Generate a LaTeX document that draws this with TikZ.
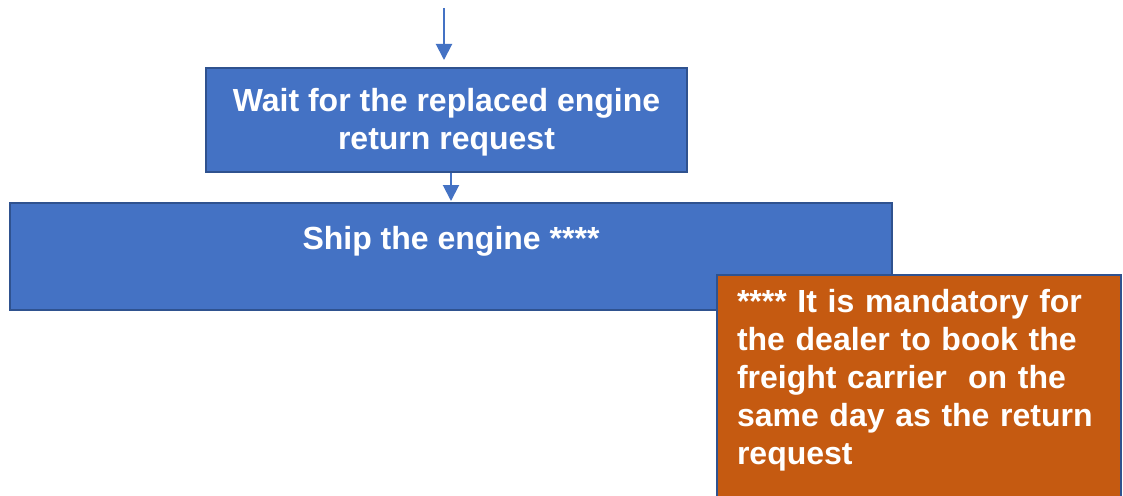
\documentclass[tikz,border=0pt]{standalone}
\usepackage{fontspec}
\setmainfont{Liberation Sans}
\usetikzlibrary{arrows.meta}
\definecolor{boxblue}{HTML}{4472C4}
\definecolor{edgeblue}{HTML}{2F528F}
\definecolor{noteorange}{HTML}{C55A11}
\begin{document}
\begin{tikzpicture}[x=1pt,y=-1pt,
  bluebox/.style={draw=edgeblue, line width=2pt, fill=boxblue, text=white,
    font=\fontsize{32}{37.5}\selectfont\bfseries, align=center, inner sep=0pt},
  notebox/.style={draw=edgeblue, line width=2pt, fill=noteorange, text=white,
    font=\fontsize{32}{37.8}\selectfont\bfseries, align=left, anchor=north west,
    inner xsep=20pt, inner ysep=2pt, minimum width=404pt, minimum height=240pt},
  flow/.style={draw=boxblue, line width=2pt, -{Triangle[width=16pt,length=16pt]}}]
\useasboundingbox (0,0) rectangle (1123,495);
\fill[white] (0,0) rectangle (1123,495);
\node[bluebox, minimum width=481pt, minimum height=104pt] (wait) at (446.5,120)
  {\rule{0pt}{28pt}Wait for the replaced engine\\return request};
\node[bluebox, minimum width=882pt, minimum height=107pt] (ship) at (451,256.5)
  {Ship the engine ****\\\rule{0pt}{1pt}};
\node[notebox, text width=364pt] (note) at (716,274)
  {**** It is mandatory for\\the dealer to book the\\freight carrier\ \ on the\\same day as the return\\request\rule[-36pt]{0pt}{36pt}};
\coordinate (top) at (444,8);
\draw[flow, shorten >=7pt] (top) -- (top |- wait.north);
\draw[flow, shorten >=1pt] (wait.south -| ship.north) -- (ship.north);
\end{tikzpicture}
\end{document}
